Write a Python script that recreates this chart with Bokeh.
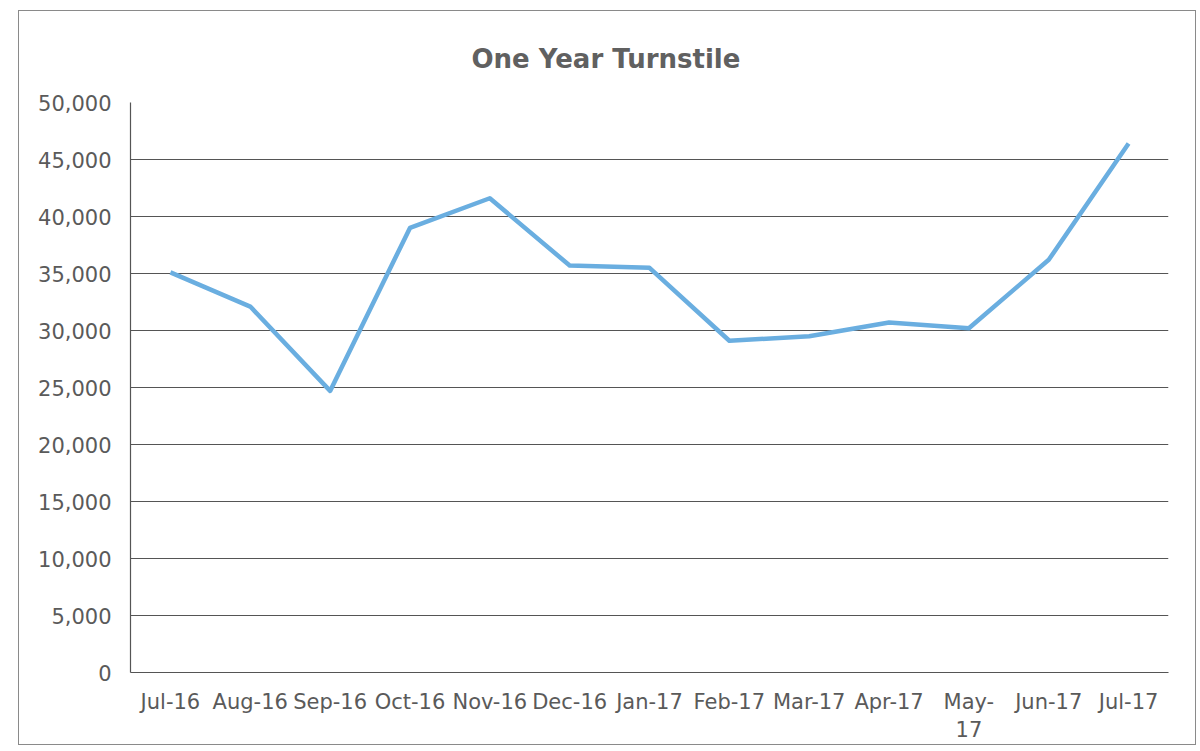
from bokeh.plotting import figure
from bokeh.models import Range1d, FixedTicker, NumeralTickFormatter
from bokeh.embed import file_html
from bokeh.resources import INLINE

# Monthly turnstile counts, July 2016 to July 2017
months = ["Jul-16", "Aug-16", "Sep-16", "Oct-16", "Nov-16", "Dec-16", "Jan-17",
          "Feb-17", "Mar-17", "Apr-17", "May-17", "Jun-17", "Jul-17"]
turnstile = [35100, 32100, 24700, 39000, 41600, 35700, 35500,
             29100, 29500, 30700, 30200, 36200, 46400]
y_ticks = [0, 5000, 10000, 15000, 20000, 25000, 30000, 35000, 40000, 45000, 50000]
# labels that wrap onto a second line on the category axis
wrapped = {"May-17": "May-\n17"}

TEXT_GREY = "#5a5a5a"
GRID_GREY = "#555555"
FONT = "DejaVu Sans"

slots = list(range(len(months)))

p = figure(
    width=1178, height=735,
    x_range=Range1d(-0.5, len(months) - 0.5),
    y_range=Range1d(0, 50000),
    output_backend="svg", toolbar_location=None,
    min_border_left=111, min_border_right=29,
    min_border_top=91, min_border_bottom=74,
    styles={"margin-left": "18px", "margin-top": "10px",
            "border": "1px solid #8a8a8a"},
)

p.title.text = "One Year Turnstile"
p.title.align = "left"
p.title.offset = 341
p.title.text_font = FONT
p.title.text_font_style = "bold"
p.title.text_font_size = "26px"
p.title.text_color = "#606060"
p.title.standoff = 57

p.outline_line_color = None
p.background_fill_color = "white"
p.border_fill_color = "white"

# value axis
p.yaxis.ticker = FixedTicker(ticks=y_ticks)
p.yaxis.formatter = NumeralTickFormatter(format="0,0")
p.yaxis.major_label_text_font = FONT
p.yaxis.major_label_text_font_size = "21px"
p.yaxis.major_label_text_color = TEXT_GREY
p.yaxis.major_label_standoff = 13
p.yaxis.major_tick_line_color = None
p.yaxis.minor_tick_line_color = None
p.yaxis.axis_line_color = GRID_GREY
p.yaxis.axis_line_width = 1.2

# category axis: one tick per month, labelled with the month name
p.xaxis.ticker = FixedTicker(ticks=slots)
p.xaxis.major_label_overrides = {i: wrapped.get(m, m) for i, m in enumerate(months)}
p.xaxis.major_label_text_font = FONT
p.xaxis.major_label_text_font_size = "21px"
p.xaxis.major_label_text_color = TEXT_GREY
p.xaxis.major_label_standoff = 11
p.xaxis.major_tick_line_color = None
p.xaxis.minor_tick_line_color = None
p.xaxis.axis_line_color = GRID_GREY
p.xaxis.axis_line_width = 1.2

p.xgrid.grid_line_color = None
p.ygrid.ticker = FixedTicker(ticks=y_ticks[1:])
p.ygrid.grid_line_color = GRID_GREY
p.ygrid.grid_line_width = 1.2

p.line(slots, turnstile, line_color="#6aaee0", line_width=4.5, line_join="round")

open("out.html", "w").write(file_html(p, INLINE))
